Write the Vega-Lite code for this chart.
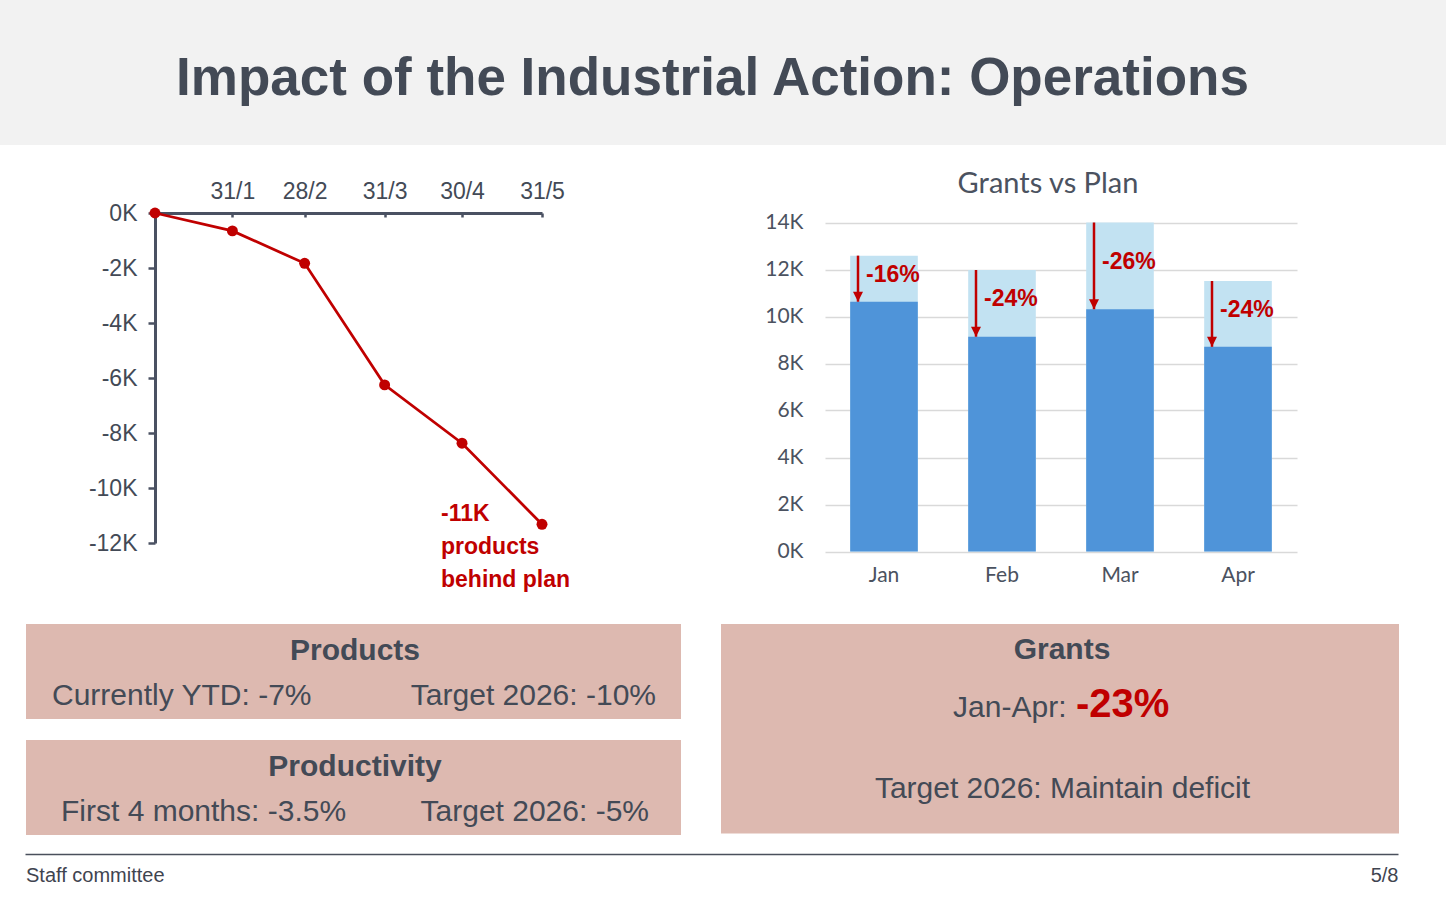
{
  "$schema": "https://vega.github.io/schema/vega-lite/v6.json",
  "width": 1446,
  "height": 899,
  "autosize": {"type": "fit", "contains": "padding"},
  "padding": 0,
  "background": "#FFFFFF",
  "config": {"view": {"stroke": null}, "text": {"font": "Liberation Sans"}},
  "datasets": {
    "products": [
      {"date": "2026-01-01", "gap": 0},
      {"date": "2026-01-31", "gap": -0.65},
      {"date": "2026-02-28", "gap": -1.83},
      {"date": "2026-03-31", "gap": -6.25},
      {"date": "2026-04-30", "gap": -8.37},
      {"date": "2026-05-31", "gap": -11.32, "note": "-11K\nproducts\nbehind plan"}
    ],
    "grants": [
      {"month": "Jan", "plan": 12.59, "actual": 10.63, "change": "-16%"},
      {"month": "Feb", "plan": 11.98, "actual": 9.14, "change": "-24%"},
      {"month": "Mar", "plan": 14.0, "actual": 10.31, "change": "-26%"},
      {"month": "Apr", "plan": 11.51, "actual": 8.71, "change": "-24%"}
    ],
    "slide": [
      {"title": "Impact of the Industrial Action: Operations", "chart": "Grants vs Plan", "footer": "Staff committee", "page": "5/8"}
    ],
    "panels": [
      {"box": "Products", "part": "head", "text": "Products"},
      {"box": "Products", "part": "left", "text": "Currently YTD: -7%"},
      {"box": "Products", "part": "right", "text": "Target 2026: -10%"},
      {"box": "Productivity", "part": "head", "text": "Productivity"},
      {"box": "Productivity", "part": "left", "text": "First 4 months: -3.5%"},
      {"box": "Productivity", "part": "right", "text": "Target 2026: -5%"},
      {"box": "Grants", "part": "head", "text": "Grants"},
      {"box": "Grants", "part": "period", "text": "Jan-Apr:"},
      {"box": "Grants", "part": "value", "text": "-23%"},
      {"box": "Grants", "part": "target", "text": "Target 2026: Maintain deficit"}
    ]
  },
  "layer": [
    {
      "data": {"name": "slide"},
      "encoding": {
        "x": {"field": "title", "type": "nominal", "scale": {"type": "band", "range": [0, 1446], "paddingInner": 0, "paddingOuter": 0}, "axis": null},
        "y": {"field": "title", "type": "nominal", "scale": {"type": "band", "range": [0, 145], "paddingInner": 0, "paddingOuter": 0}, "axis": null}
      },
      "layer": [
        {"mark": {"type": "rect", "color": "#F2F2F2"}},
        {"mark": {"type": "text", "font": "Liberation Sans", "fontSize": 53, "fontWeight": "bold", "color": "#434A56", "baseline": "alphabetic", "dx": -10.5, "dy": 22.5},
         "encoding": {"text": {"field": "title"}}}
      ]
    },
    {
      "data": {"name": "products"},
      "encoding": {
        "x": {
          "field": "date", "type": "temporal",
          "scale": {"type": "utc", "domain": [{"year": 2026, "month": 1, "date": 1, "utc": true}, {"year": 2026, "month": 5, "date": 31, "utc": true}], "range": [155, 542]},
          "axis": {
            "orient": "top", "offset": -213, "title": null, "grid": false,
            "values": [
              {"year": 2026, "month": 1, "date": 31, "utc": true},
              {"year": 2026, "month": 2, "date": 28, "utc": true},
              {"year": 2026, "month": 3, "date": 31, "utc": true},
              {"year": 2026, "month": 4, "date": 30, "utc": true},
              {"year": 2026, "month": 5, "date": 31, "utc": true}
            ],
            "labelExpr": "utcFormat(datum.value, '%-d/%-m')",
            "domainColor": "#4A5162", "domainWidth": 3,
            "tickColor": "#4A5162", "tickWidth": 2.5, "tickSize": -4,
            "labelPadding": 14, "labelFont": "Liberation Sans", "labelFontSize": 23, "labelColor": "#434A56",
            "labelFlush": false, "labelOverlap": false, "labelDx": -2
          }
        },
        "y": {
          "field": "gap", "type": "quantitative",
          "scale": {"domain": [-12, 0], "range": [543, 213], "nice": false, "zero": false},
          "axis": {
            "orient": "left", "offset": -155, "title": null, "grid": false,
            "values": [0, -2, -4, -6, -8, -10, -12],
            "labelExpr": "datum.value + 'K'",
            "domainColor": "#4A5162", "domainWidth": 3,
            "tickColor": "#4A5162", "tickWidth": 2.5, "tickSize": 7,
            "labelPadding": 11, "labelFont": "Liberation Sans", "labelFontSize": 23, "labelColor": "#434A56", "labelDy": 1
          }
        }
      },
      "layer": [
        {"mark": {"type": "line", "color": "#C00000", "strokeWidth": 2.75}},
        {"mark": {"type": "circle", "color": "#C00000", "size": 120, "opacity": 1}},
        {"transform": [{"filter": "isValid(datum.note)"}],
         "mark": {"type": "text", "font": "Liberation Sans", "fontSize": 23, "fontWeight": "bold", "color": "#C00000", "align": "left", "baseline": "alphabetic", "lineBreak": "\n", "lineHeight": 33, "dx": -101, "dy": -3},
         "encoding": {"text": {"field": "note"}}}
      ]
    },
    {
      "data": {"name": "grants"},
      "encoding": {
        "x": {
          "field": "month", "type": "nominal",
          "scale": {"type": "band", "domain": ["Jan", "Feb", "Mar", "Apr"], "range": [825, 1297], "paddingInner": 0.427, "paddingOuter": 0.2135},
          "axis": {"orient": "bottom", "offset": -347.5, "title": null, "domain": false, "ticks": false, "grid": false, "labelAngle": 0,
                   "labelFont": "Lato", "labelFontSize": 21, "labelColor": "#4B5260", "labelPadding": 13}
        }
      },
      "layer": [
        {"mark": {"type": "bar", "color": "#C2E2F2"},
         "encoding": {"y": {"field": "plan", "type": "quantitative", "title": null,
           "scale": {"domain": [0, 14], "range": [551.5, 222.5], "nice": false, "zero": true},
           "axis": {"orient": "left", "offset": -825, "title": null, "domain": false, "ticks": false,
                    "values": [0, 2, 4, 6, 8, 10, 12, 14], "labelExpr": "datum.value + 'K'",
                    "grid": true, "gridColor": "#D9D9D9", "gridWidth": 1.3,
                    "labelFont": "Lato", "labelFontSize": 21, "labelColor": "#4B5260", "labelPadding": 22}}}},
        {"mark": {"type": "bar", "color": "#4F94D9"},
         "encoding": {"y": {"field": "actual", "type": "quantitative", "title": null}}},
        {"mark": {"type": "rule", "color": "#C00000", "strokeWidth": 2.5, "xOffset": -26},
         "encoding": {"y": {"field": "plan", "type": "quantitative", "title": null}, "y2": {"field": "actual"}}},
        {"mark": {"type": "point", "shape": "M-1,-1L1,-1L0,1Z", "filled": true, "color": "#C00000", "opacity": 1, "size": 100, "xOffset": -26, "yOffset": -5},
         "encoding": {"y": {"field": "actual", "type": "quantitative", "title": null}}},
        {"transform": [{"fold": ["plan", "actual"], "as": ["series", "val"]}],
         "mark": {"type": "text", "font": "Liberation Sans", "fontSize": 23, "fontWeight": "bold", "color": "#C00000", "align": "left", "baseline": "middle", "dx": -18, "dy": -4},
         "encoding": {"y": {"aggregate": "mean", "field": "val", "type": "quantitative", "title": null}, "text": {"field": "change"}}}
      ]
    },
    {
      "data": {"name": "slide"},
      "mark": {"type": "text", "font": "Lato", "fontSize": 29, "color": "#4B5260", "baseline": "alphabetic", "dx": -13},
      "encoding": {
        "x": {"field": "chart", "type": "nominal", "scale": {"type": "band", "range": [825, 1297], "paddingInner": 0, "paddingOuter": 0}, "axis": null},
        "y": {"field": "chart", "type": "nominal", "scale": {"type": "band", "range": [172, 193], "paddingInner": 0, "paddingOuter": 0}, "axis": null, "bandPosition": 1},
        "text": {"field": "chart"}
      }
    },
    {
      "data": {"name": "panels"},
      "transform": [{"filter": "datum.box == 'Products'"}],
      "encoding": {
        "x": {"field": "box", "type": "nominal", "scale": {"type": "band", "range": [26, 681], "paddingInner": 0, "paddingOuter": 0}, "axis": null},
        "y": {"field": "box", "type": "nominal", "scale": {"type": "band", "range": [624, 719], "paddingInner": 0, "paddingOuter": 0}, "axis": null}
      },
      "layer": [
        {"transform": [{"filter": "datum.part == 'head'"}], "mark": {"type": "rect", "color": "#DDB9B0"}},
        {"transform": [{"filter": "datum.part == 'head'"}],
         "mark": {"type": "text", "fontSize": 30, "fontWeight": "bold", "color": "#434A56", "baseline": "alphabetic", "dx": 1.5, "dy": -11.5},
         "encoding": {"text": {"field": "text"}}},
        {"transform": [{"filter": "datum.part == 'left'"}],
         "mark": {"type": "text", "fontSize": 30, "color": "#434A56", "align": "left", "baseline": "alphabetic", "dx": 26, "dy": 33.5},
         "encoding": {"x": {"field": "box", "type": "nominal", "bandPosition": 0, "scale": {"type": "band", "range": [26, 681], "paddingInner": 0, "paddingOuter": 0}, "axis": null}, "text": {"field": "text"}}},
        {"transform": [{"filter": "datum.part == 'right'"}],
         "mark": {"type": "text", "fontSize": 30, "color": "#434A56", "align": "right", "baseline": "alphabetic", "dx": -25, "dy": 33.5},
         "encoding": {"x": {"field": "box", "type": "nominal", "bandPosition": 1, "scale": {"type": "band", "range": [26, 681], "paddingInner": 0, "paddingOuter": 0}, "axis": null}, "text": {"field": "text"}}}
      ]
    },
    {
      "data": {"name": "panels"},
      "transform": [{"filter": "datum.box == 'Productivity'"}],
      "encoding": {
        "x": {"field": "box", "type": "nominal", "scale": {"type": "band", "range": [26, 681], "paddingInner": 0, "paddingOuter": 0}, "axis": null},
        "y": {"field": "box", "type": "nominal", "scale": {"type": "band", "range": [740, 835], "paddingInner": 0, "paddingOuter": 0}, "axis": null}
      },
      "layer": [
        {"transform": [{"filter": "datum.part == 'head'"}], "mark": {"type": "rect", "color": "#DDB9B0"}},
        {"transform": [{"filter": "datum.part == 'head'"}],
         "mark": {"type": "text", "fontSize": 30, "fontWeight": "bold", "color": "#434A56", "baseline": "alphabetic", "dx": 1.5, "dy": -11.5},
         "encoding": {"text": {"field": "text"}}},
        {"transform": [{"filter": "datum.part == 'left'"}],
         "mark": {"type": "text", "fontSize": 30, "color": "#434A56", "align": "left", "baseline": "alphabetic", "dx": 35, "dy": 33.5},
         "encoding": {"x": {"field": "box", "type": "nominal", "bandPosition": 0, "scale": {"type": "band", "range": [26, 681], "paddingInner": 0, "paddingOuter": 0}, "axis": null}, "text": {"field": "text"}}},
        {"transform": [{"filter": "datum.part == 'right'"}],
         "mark": {"type": "text", "fontSize": 30, "color": "#434A56", "align": "right", "baseline": "alphabetic", "dx": -32, "dy": 33.5},
         "encoding": {"x": {"field": "box", "type": "nominal", "bandPosition": 1, "scale": {"type": "band", "range": [26, 681], "paddingInner": 0, "paddingOuter": 0}, "axis": null}, "text": {"field": "text"}}}
      ]
    },
    {
      "data": {"name": "panels"},
      "transform": [{"filter": "datum.box == 'Grants'"}],
      "encoding": {
        "x": {"field": "box", "type": "nominal", "scale": {"type": "band", "range": [721, 1399], "paddingInner": 0, "paddingOuter": 0}, "axis": null},
        "y": {"field": "box", "type": "nominal", "scale": {"type": "band", "range": [624, 833.5], "paddingInner": 0, "paddingOuter": 0}, "axis": null}
      },
      "layer": [
        {"transform": [{"filter": "datum.part == 'head'"}], "mark": {"type": "rect", "color": "#DDB9B0"}},
        {"transform": [{"filter": "datum.part == 'head'"}],
         "mark": {"type": "text", "fontSize": 30, "fontWeight": "bold", "color": "#434A56", "baseline": "alphabetic", "dx": 2, "dy": -69.5},
         "encoding": {"text": {"field": "text"}}},
        {"transform": [{"filter": "datum.part == 'period'"}],
         "mark": {"type": "text", "fontSize": 30, "color": "#434A56", "align": "right", "baseline": "alphabetic", "dx": 6.5, "dy": -12.25},
         "encoding": {"text": {"field": "text"}}},
        {"transform": [{"filter": "datum.part == 'value'"}],
         "mark": {"type": "text", "fontSize": 40, "fontWeight": "bold", "color": "#C00000", "align": "left", "baseline": "alphabetic", "dx": 16, "dy": -12.25},
         "encoding": {"text": {"field": "text"}}},
        {"transform": [{"filter": "datum.part == 'target'"}],
         "mark": {"type": "text", "fontSize": 30, "color": "#434A56", "baseline": "alphabetic", "dx": 2.5, "dy": 69.5},
         "encoding": {"text": {"field": "text"}}}
      ]
    },
    {
      "data": {"name": "slide"},
      "encoding": {
        "x": {"field": "footer", "type": "nominal", "scale": {"type": "band", "range": [25.5, 1398.5], "paddingInner": 0, "paddingOuter": 0}, "axis": null},
        "y": {"field": "footer", "type": "nominal", "scale": {"type": "band", "range": [853.8, 855.2], "paddingInner": 0, "paddingOuter": 0}, "axis": null}
      },
      "layer": [
        {"mark": {"type": "rect", "color": "#4A505C"}},
        {"mark": {"type": "text", "fontSize": 20, "color": "#3F4450", "align": "left", "baseline": "alphabetic", "dx": 0.5, "dy": 27},
         "encoding": {"x": {"field": "footer", "type": "nominal", "bandPosition": 0, "scale": {"type": "band", "range": [25.5, 1398.5], "paddingInner": 0, "paddingOuter": 0}, "axis": null}, "text": {"field": "footer"}}},
        {"mark": {"type": "text", "fontSize": 20, "color": "#3F4450", "align": "right", "baseline": "alphabetic", "dx": 0, "dy": 27},
         "encoding": {"x": {"field": "footer", "type": "nominal", "bandPosition": 1, "scale": {"type": "band", "range": [25.5, 1398.5], "paddingInner": 0, "paddingOuter": 0}, "axis": null}, "text": {"field": "page"}}}
      ]
    }
  ],
  "resolve": {
    "scale": {"x": "independent", "y": "independent"},
    "axis": {"x": "independent", "y": "independent"}
  }
}
